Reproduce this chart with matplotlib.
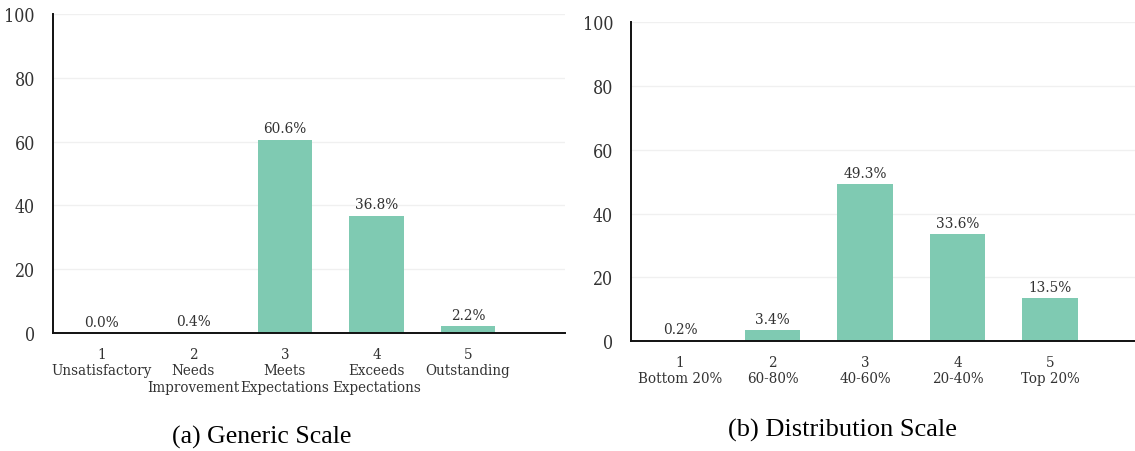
import matplotlib.pyplot as plt
import numpy as np

plt.rcParams.update({
    "font.family": "DejaVu Serif",
    "axes.edgecolor": "#111111",
    "axes.linewidth": 1.4,
    "xtick.color": "#333333",
    "ytick.color": "#333333",
})

levels = [1, 2, 3, 4, 5]
generic_names = ["Unsatisfactory", "Needs\nImprovement", "Meets\nExpectations",
                 "Exceeds\nExpectations", "Outstanding"]
generic_pct = [0.0, 0.4, 60.6, 36.8, 2.2]
dist_names = ["Bottom 20%", "60-80%", "40-60%", "20-40%", "Top 20%"]
dist_pct = [0.2, 3.4, 49.3, 33.6, 13.5]
y_ticks = [0, 20, 40, 60, 80, 100]

bar_color = "#7fcab2"

fig = plt.figure(figsize=(11.35, 4.52), dpi=100)
ax_a = fig.add_axes([0.0467, 0.261, 0.4511, 0.706])
ax_b = fig.add_axes([0.556, 0.243, 0.444, 0.706])


def draw_panel(ax, names, pct, xlim):
    x = np.array(levels)
    bars = ax.bar(x, pct, width=0.6, color=bar_color, zorder=2)
    for b, v in zip(bars, pct):
        ax.annotate(f"{v:.1f}%", (b.get_x() + b.get_width() / 2, v),
                    xytext=(0, 3), textcoords="offset points",
                    ha="center", va="bottom", fontsize=11,
                    fontstretch="condensed", color="#333333")
    ax.set_xticks(x, [f"{l}\n{n}" for l, n in zip(levels, names)],
                  fontsize=10.8, fontstretch="condensed", linespacing=1.22)
    ax.set_yticks(y_ticks, [str(t) for t in y_ticks], fontsize=12.8,
                  fontstretch="condensed")
    ax.set_ylim(0, 100)
    ax.set_xlim(*xlim)
    ax.tick_params(axis="x", length=0, pad=10)
    ax.tick_params(axis="y", length=0, pad=13)
    ax.yaxis.grid(True, color="#f0f0f0", linewidth=1, zorder=0)
    ax.set_axisbelow(True)
    for side in ["top", "right"]:
        ax.spines[side].set_visible(False)


draw_panel(ax_a, generic_names, generic_pct, (0.465, 6.06))
draw_panel(ax_b, dist_names, dist_pct, (0.47, 5.92))

fig.text(262 / 1135, 1 - 437 / 452, "(a) Generic Scale", ha="center", va="center",
         fontsize=18.5, family="Liberation Serif")
fig.text(843 / 1135, 1 - 430 / 452, "(b) Distribution Scale", ha="center", va="center",
         fontsize=19, family="Liberation Serif")

fig.savefig("out.png", dpi=100)
